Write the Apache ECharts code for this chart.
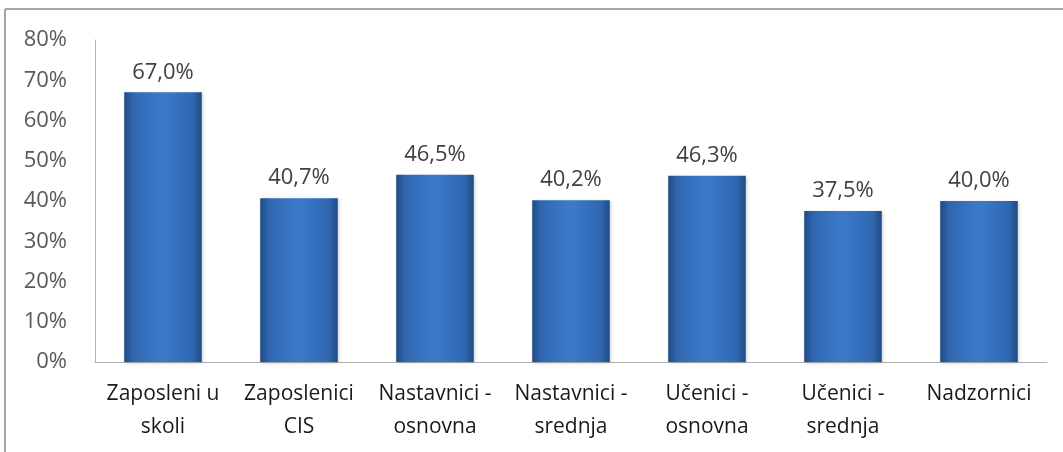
<!DOCTYPE html>
<html>
<head>
<meta charset="utf-8">
<script src="https://cdn.jsdelivr.net/npm/echarts@6/dist/echarts.min.js"></script>
<style>
  html, body { margin: 0; padding: 0; background: #ffffff; }
  #chart { width: 1063px; height: 452px; }
</style>
</head>
<body>
<div id="chart"></div>
<script>
// Categories (two-line labels) and percentage values
const categories = [
  'Zaposleni u\nskoli',
  'Zaposlenici\nCIS',
  'Nastavnici -\nosnovna',
  'Nastavnici -\nsrednja',
  'Učenici -\nosnovna',
  'Učenici -\nsrednja',
  'Nadzornici'
];
const values = [67.0, 40.7, 46.5, 40.2, 46.3, 37.5, 40.0];
const yTicks = { min: 0, max: 80, interval: 10 };

const FONT = '"Open Sans", "Noto Sans", sans-serif';

const chart = echarts.init(document.getElementById('chart'), null, { renderer: 'canvas' });

const barFill = new echarts.graphic.LinearGradient(0, 0, 1, 0, [
  { offset: 0.00, color: '#1f4a86' },
  { offset: 0.12, color: '#3067b0' },
  { offset: 0.50, color: '#3b7bcb' },
  { offset: 0.88, color: '#3067b0' },
  { offset: 1.00, color: '#1f4a86' }
]);

chart.setOption({
  animation: false,
  backgroundColor: '#ffffff',
  graphic: [
    // outer frame of the chart area (top and left edges)
    { type: 'line', shape: { x1: 5, y1: 9, x2: 1063, y2: 9 },
      style: { stroke: '#a6a6a6', lineWidth: 2 } },
    { type: 'line', shape: { x1: 5, y1: 9, x2: 5, y2: 452 },
      style: { stroke: '#a6a6a6', lineWidth: 2 } }
  ],
  grid: { left: 95, right: 16, top: 40, bottom: 90 },
  xAxis: {
    type: 'category',
    data: categories,
    axisLine: { show: true, lineStyle: { color: '#b3b3b3', width: 1 } },
    axisTick: { show: false },
    axisLabel: {
      interval: 0,
      margin: 16,
      color: '#1a1a1a',
      fontFamily: FONT,
      fontSize: 21,
      lineHeight: 33
    }
  },
  yAxis: {
    type: 'value',
    min: yTicks.min,
    max: yTicks.max,
    interval: yTicks.interval,
    axisLine: { show: true, lineStyle: { color: '#b3b3b3', width: 1 } },
    axisTick: { show: false },
    splitLine: { show: false },
    axisLabel: {
      margin: 28,
      color: '#595959',
      fontFamily: FONT,
      fontSize: 22,
      formatter: v => v + '%'
    }
  },
  series: [{
    type: 'bar',
    data: values,
    barWidth: '57%',
    itemStyle: {
      color: barFill,
      shadowColor: 'rgba(0,0,0,0.2)',
      shadowBlur: 3,
      shadowOffsetX: 1,
      shadowOffsetY: 1
    },
    label: {
      show: true,
      position: 'top',
      distance: 9,
      color: '#404040',
      fontFamily: FONT,
      fontSize: 22,
      formatter: p => p.value.toFixed(1).replace('.', ',') + '%'
    }
  }]
});
</script>
</body>
</html>
